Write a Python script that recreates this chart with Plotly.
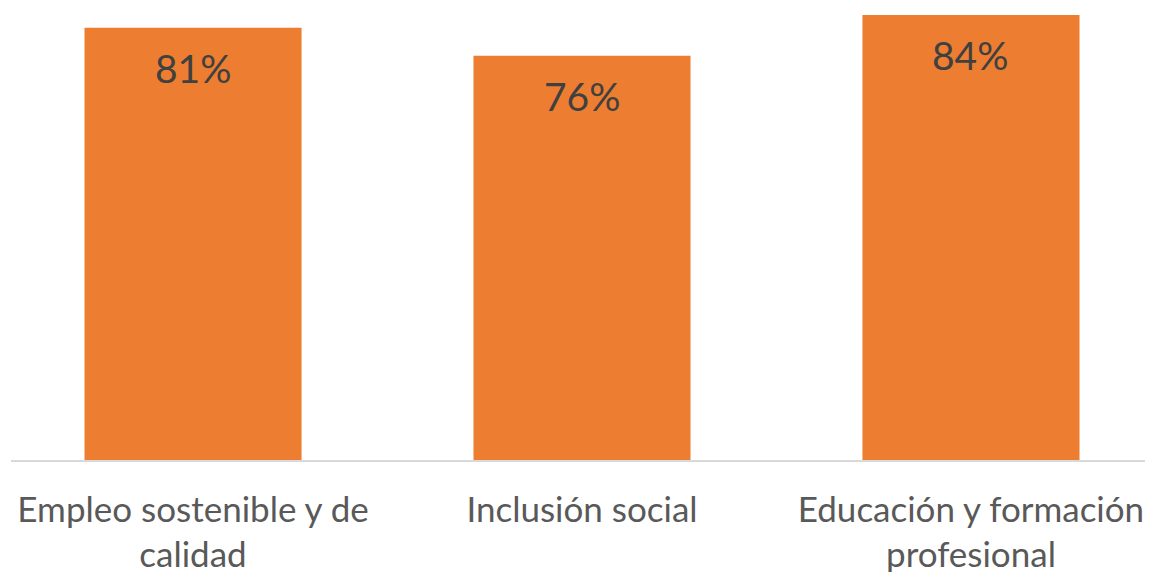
import plotly.graph_objects as go

categories = ["Empleo sostenible y de<br>calidad", "Inclusión social", "Educación y formación<br>profesional"]
values = [81.4, 76.1, 83.8]
labels = ["81%", "76%", "84%"]

bar_color = "#ED7D31"

fig = go.Figure()
fig.add_trace(go.Bar(
    x=categories, y=values, marker=dict(color=bar_color, line=dict(width=0)),
    width=0.558, hoverinfo="skip",
))

for c, v, t in zip(categories, values, labels):
    fig.add_annotation(x=c, y=v, text=t, showarrow=False, yanchor="top", yshift=-15,
                       font=dict(family="Lato", size=39, color="#404040"))

fig.update_layout(
    width=1145, height=564,
    margin=dict(l=3, r=0, t=0, b=112),
    paper_bgcolor="white", plot_bgcolor="white",
    showlegend=False,
    xaxis=dict(range=[-0.468, 2.468], showline=True, linecolor="#D9D9D9", linewidth=1.5,
               tickfont=dict(family="Lato", size=35, color="#595959"),
               ticks="", ticklabelstandoff=18, automargin=False),
    yaxis=dict(range=[0, 85.1], visible=False, showgrid=False, zeroline=False, automargin=False),
)

fig.write_html("out.html")
